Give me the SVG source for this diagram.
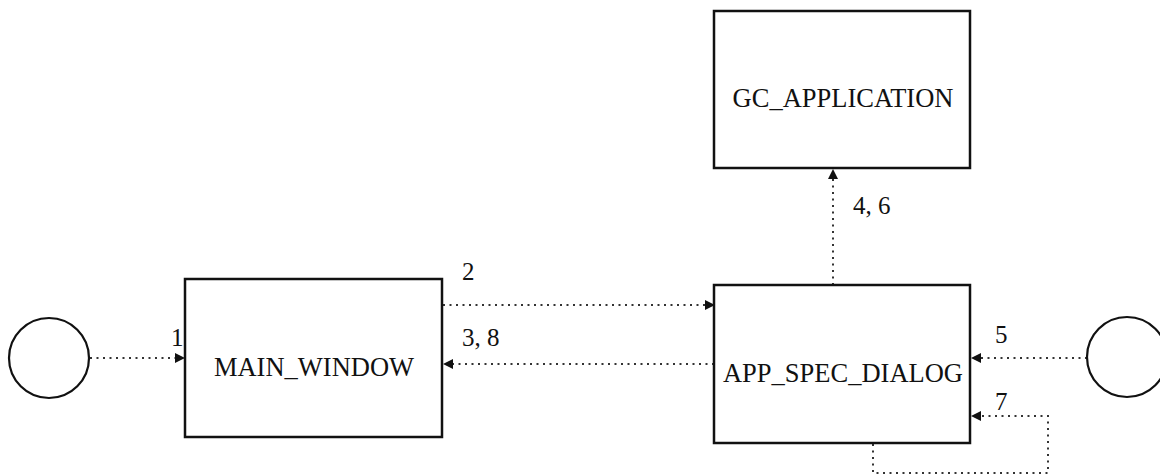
<svg xmlns="http://www.w3.org/2000/svg" width="1160" height="475" viewBox="0 0 1160 475">
<style>
.box{fill:#fff;stroke:#111;stroke-width:2.5}
.circ{fill:none;stroke:#111;stroke-width:2.2}
.name{font-family:"Liberation Serif","Times New Roman",serif;font-size:26.5px;fill:#111;text-anchor:middle}
.lbl{font-family:"Liberation Serif","Times New Roman",serif;font-size:25px;fill:#111}
.con{fill:none;stroke:#333;stroke-width:2;stroke-dasharray:2 4.5}
</style>
<defs>
<marker id="ah" viewBox="0 0 10 10" refX="10" refY="5" markerWidth="10" markerHeight="10" markerUnits="userSpaceOnUse" orient="auto">
<path d="M0,0 L10,5 L0,10 z" fill="#111"/>
</marker>
</defs>
<rect width="1160" height="475" fill="#fff"/>
<g id="connectors">
<line class="con" x1="90" y1="358" x2="185" y2="358" marker-end="url(#ah)"/>
<line class="con" x1="443" y1="305" x2="715" y2="305" marker-end="url(#ah)"/>
<line class="con" x1="714" y1="364" x2="443" y2="364" marker-end="url(#ah)"/>
<line class="con" x1="833" y1="285" x2="833" y2="169" marker-end="url(#ah)"/>
<line class="con" x1="1087" y1="358" x2="971" y2="358" marker-end="url(#ah)"/>
<polyline class="con" points="873,444 873,473 1048,473 1048,416 971,416" marker-end="url(#ah)"/>
<text class="lbl" x="171" y="346">1</text>
<text class="lbl" x="462" y="280">2</text>
<text class="lbl" x="462" y="346">3, 8</text>
<text class="lbl" x="853" y="214">4, 6</text>
<text class="lbl" x="995" y="343">5</text>
<text class="lbl" x="995" y="410">7</text>
</g>
<g id="start_left"><circle class="circ" cx="49" cy="358" r="40"/></g>
<g id="start_right"><circle class="circ" cx="1127" cy="357" r="40"/></g>
<g id="main_window">
<rect class="box" x="185" y="279" width="257" height="158"/>
<text class="name" x="314" y="376">MAIN_WINDOW</text>
</g>
<g id="gc_application">
<rect class="box" x="714" y="11" width="256" height="157"/>
<text class="name" x="843" y="107">GC_APPLICATION</text>
</g>
<g id="app_spec_dialog">
<rect class="box" x="714" y="285" width="256" height="158"/>
<text class="name" x="843" y="382">APP_SPEC_DIALOG</text>
</g>
</svg>
